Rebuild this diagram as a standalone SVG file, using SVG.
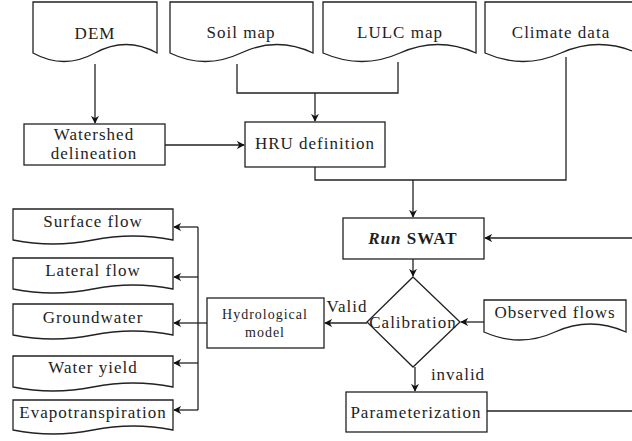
<svg xmlns="http://www.w3.org/2000/svg" width="632" height="441" viewBox="0 0 632 441" font-family="Liberation Serif, serif">
  <defs>
    <marker id="arrow" viewBox="0 0 10 10" refX="9" refY="5" markerWidth="8" markerHeight="8" markerUnits="userSpaceOnUse" orient="auto">
      <path d="M0,0 L10,5 L0,10 L3,5 Z" fill="#111"/>
    </marker>
    <style>
      .shape { fill: #fff; stroke: #222; stroke-width: 1.3; }
      .edge { fill: none; stroke: #222; stroke-width: 1.3; }
      .arr { marker-end: url(#arrow); }
      text { font-size: 17px; letter-spacing: 1px; fill: #1e1e1e; text-anchor: middle; dominant-baseline: central; }
      .small { font-size: 14px; letter-spacing: 1px; }
    </style>
  </defs>

  <rect width="632" height="441" fill="#fff"/>

  <!-- input documents -->
  <g id="dem">
    <path class="shape" d="M33,2 H157 V53 Q126,36 95,53 Q64,70 33,53 Z"/>
    <text x="95" y="33">DEM</text>
  </g>
  <g id="soil-map">
    <path class="shape" d="M170,2 H313 V53 Q277,36 241,53 Q205,70 170,53 Z"/>
    <text x="241" y="32">Soil map</text>
  </g>
  <g id="lulc-map">
    <path class="shape" d="M323,2 H476 V53 Q438,36 400,53 Q362,70 323,53 Z"/>
    <text x="400" y="32">LULC map</text>
  </g>
  <g id="climate-data">
    <path class="shape" d="M485,2 H637 V53 Q599,36 561,53 Q523,70 485,53 Z"/>
    <text x="561" y="32">Climate data</text>
  </g>

  <!-- processing steps -->
  <g id="watershed-delineation">
    <rect class="shape" x="24" y="124" width="141" height="41"/>
    <text x="94" y="134">Watershed</text>
    <text x="94" y="153">delineation</text>
  </g>
  <g id="hru-definition">
    <rect class="shape" x="245" y="122" width="140" height="45"/>
    <text x="315" y="143">HRU definition</text>
  </g>
  <g id="run-swat">
    <rect class="shape" x="343" y="218" width="141" height="41"/>
    <text x="413" y="238" font-weight="bold"><tspan font-style="italic">Run</tspan> SWAT</text>
  </g>
  <g id="calibration">
    <path class="shape" d="M413,277 L460,322 L413,367 L367,322 Z"/>
    <text x="413" y="322">Calibration</text>
  </g>
  <g id="observed-flows">
    <path class="shape" d="M484,300 H626 V332 Q590,316 555,332 Q520,348 484,332 Z"/>
    <text x="555" y="312">Observed flows</text>
  </g>
  <g id="parameterization">
    <rect class="shape" x="346" y="392" width="141" height="40"/>
    <text x="416" y="412">Parameterization</text>
  </g>
  <g id="hydrological-model">
    <rect class="shape" x="207" y="298" width="117" height="50"/>
    <text class="small" x="265" y="314">Hydrological</text>
    <text class="small" x="265" y="332">model</text>
  </g>

  <!-- model outputs -->
  <g id="surface-flow">
    <path class="shape" d="M13,209 H173 V240 Q133,232 93,240 Q53,248 13,240 Z"/>
    <text x="93" y="221">Surface flow</text>
  </g>
  <g id="lateral-flow">
    <path class="shape" d="M13,258 H173 V289 Q133,281 93,289 Q53,297 13,289 Z"/>
    <text x="93" y="270">Lateral flow</text>
  </g>
  <g id="groundwater">
    <path class="shape" d="M13,304 H173 V335 Q133,327 93,335 Q53,343 13,335 Z"/>
    <text x="93" y="317">Groundwater</text>
  </g>
  <g id="water-yield">
    <path class="shape" d="M13,356 H173 V387 Q133,379 93,387 Q53,395 13,387 Z"/>
    <text x="93" y="367">Water yield</text>
  </g>
  <g id="evapotranspiration">
    <path class="shape" d="M13,400 H173 V430 Q133,422 93,430 Q53,438 13,430 Z"/>
    <text x="93" y="412">Evapotranspiration</text>
  </g>

  <!-- connectors -->
  <g id="connectors">
    <path class="edge arr" d="M95,64 V123"/>
    <path class="edge arr" d="M165,145 H244"/>
    <path class="edge" d="M237,64 V93 H398 V62"/>
    <path class="edge arr" d="M315,93 V121"/>
    <path class="edge" d="M315,167 V180 H566 V57"/>
    <path class="edge arr" d="M413,180 V217"/>
    <path class="edge arr" d="M640,238 H485"/>
    <path class="edge arr" d="M413,259 V276"/>
    <path class="edge arr" d="M484,322 H461"/>
    <path class="edge arr" d="M415,367 V391"/>
    <path class="edge" d="M487,411 H640"/>
    <path class="edge arr" d="M367,323 H325"/>
    <text x="347" y="306">Valid</text>
    <text x="458" y="374">invalid</text>
    <path class="edge" d="M207,323 H198"/>
    <path class="edge" d="M198,227 V410"/>
    <path class="edge arr" d="M198,227 H174"/>
    <path class="edge arr" d="M198,277 H174"/>
    <path class="edge arr" d="M198,323 H174"/>
    <path class="edge arr" d="M198,363 H174"/>
    <path class="edge arr" d="M198,410 H174"/>
  </g>
</svg>
